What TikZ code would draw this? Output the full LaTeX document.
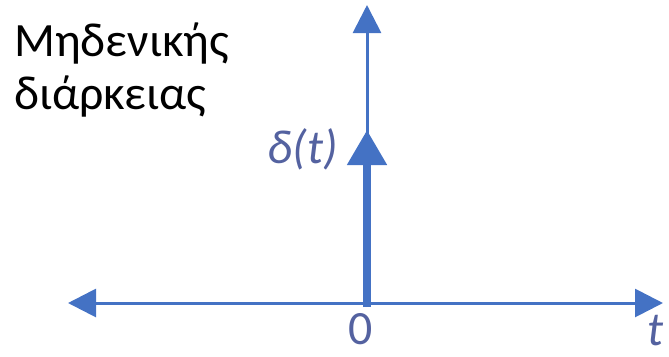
\documentclass[tikz,border=0pt]{standalone}
\usepackage{fontspec}
\setmainfont{Carlito}
\usepackage{tikz}
\usetikzlibrary{positioning, arrows.meta}

\definecolor{axisblue}{RGB}{68,114,196}
\definecolor{labelblue}{RGB}{84,98,160}

\begin{document}
\begin{tikzpicture}[
  x=1bp, y=-1bp,
  axis/.style={draw=axisblue, line width=3bp, -{Triangle[width=28bp, length=28bp]}},
  impulse/.style={draw=axisblue, line width=8bp, -{Triangle[width=38bp, length=35bp]}},
  lbl/.style={text=labelblue, font=\fontsize{48}{56}\selectfont\itshape, inner sep=0pt},
  title/.style={anchor=base west, inner sep=0pt, font=\fontsize{48}{53}\selectfont}
]
  \useasboundingbox (0,0) rectangle (669,356);

  % Points
  \coordinate (origin) at (367,303);
  \coordinate (ytop) at (367,5);
  \coordinate (xleft) at (68,303);
  \coordinate (xright) at (663,303);
  \coordinate (foot) at (367,307);
  \coordinate (peak) at (367,130);

  % Axes
  \draw[axis] (foot) -- (ytop);
  \draw[axis] (origin) -- (xleft);
  \draw[axis] (origin) -- (xright);

  % Impulse
  \draw[impulse] (foot) -- (peak);

  % Labels
  \node[lbl, anchor=base east] (dlabel) at (338,163) {δ(t)};
  \node[lbl, font=\fontsize{48}{56}\selectfont, anchor=base] (zero) at (361,344) {0};
  \node[lbl, anchor=base] (tlabel) at (655,345) {t};

  % Title
  \node[title] (title1) at (14,56) {Μηδενικής};
  \node[title] (title2) at (14,109) {διάρκειας};
\end{tikzpicture}
\end{document}
